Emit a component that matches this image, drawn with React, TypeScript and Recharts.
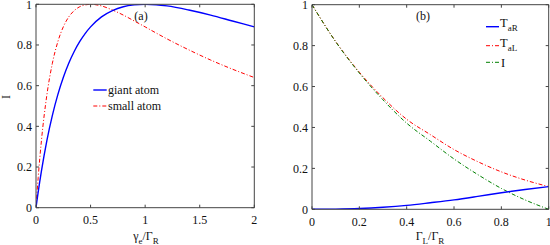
import React from "react";
import { LineChart, Line, XAxis, YAxis } from "recharts";

// Panel (a)
const gammaE = [0, 0.01, 0.02, 0.05, 0.1, 0.15, 0.2, 0.25, 0.3, 0.35, 0.4, 0.45, 0.5, 0.6, 0.7, 0.8, 0.9, 1.0, 1.1, 1.2, 1.4, 1.6, 1.8, 2.0];
const giantAtom = [0, 0.039, 0.077, 0.181, 0.331, 0.454, 0.556, 0.64, 0.71, 0.768, 0.816, 0.856, 0.889, 0.938, 0.969, 0.988, 0.997, 1, 0.998, 0.992, 0.972, 0.947, 0.918, 0.889];
const smallAtom = [0, 0.077, 0.148, 0.331, 0.556, 0.71, 0.816, 0.889, 0.938, 0.969, 0.988, 0.997, 1, 0.992, 0.972, 0.947, 0.918, 0.889, 0.859, 0.83, 0.776, 0.726, 0.681, 0.64];
const ticksA = [0, 0.5, 1, 1.5, 2];

// Panel (b)
const gammaRatio = [0, 0.1, 0.2, 0.3, 0.4, 0.5, 0.6, 0.7, 0.8, 0.9, 1.0];
const tAR = [0, 0.001, 0.004, 0.01, 0.019, 0.032, 0.046, 0.063, 0.081, 0.097, 0.111];
const tAL = [1, 0.82, 0.67, 0.545, 0.44, 0.365, 0.292, 0.233, 0.183, 0.143, 0.111];
const intensity = [1, 0.819, 0.666, 0.535, 0.421, 0.333, 0.246, 0.17, 0.102, 0.046, 0];
const ticksB = [0, 0.2, 0.4, 0.6, 0.8, 1];
const ticksY = [0, 0.2, 0.4, 0.6, 0.8, 1];

const dataA = gammaE.map((x, i) => ({ x, giant: giantAtom[i], small: smallAtom[i] }));
const dataB = gammaRatio.map((x, i) => ({ x, tar: tAR[i], tal: tAL[i], inten: intensity[i] }));

const FONT = "Liberation Serif";
const AX = "#444";
const tickStyle = { fontSize: 12, fontFamily: FONT, fill: "#111" };
const DASHDOT = "4 2 1 2";

export default function App() {
  return (
    <div style={{ position: "absolute", left: 0, top: 0, width: 550, height: 245, background: "#fff", fontFamily: FONT }}>
      <div style={{ position: "absolute", left: 0, top: 0 }}>
        <LineChart width={275} height={245} data={dataA} margin={{ top: 3.3, right: 19.7, left: 35, bottom: 36.3 }}>
          <XAxis dataKey="x" type="number" domain={[0, 2]} ticks={ticksA} interval={0} height={1}
            stroke={AX} tickSize={-3} tickMargin={11} tick={tickStyle} allowDataOverflow />
          <XAxis xAxisId="top" orientation="top" dataKey="x" type="number" domain={[0, 2]} ticks={ticksA} interval={0} height={1}
            stroke={AX} tickSize={-3} tickFormatter={() => ""} allowDataOverflow />
          <YAxis type="number" domain={[0, 1]} ticks={ticksY} interval={0} width={1}
            stroke={AX} tickSize={-3} tickMargin={7} tick={tickStyle} allowDataOverflow />
          <YAxis yAxisId="right" orientation="right" type="number" domain={[0, 1]} ticks={ticksY} interval={0} width={1}
            stroke={AX} tickSize={-3} tickFormatter={() => ""} allowDataOverflow />
          <Line dataKey="small" type="monotone" stroke="#ff0000" strokeWidth={1} strokeDasharray={DASHDOT} dot={false} isAnimationActive={false} />
          <Line dataKey="giant" type="monotone" stroke="#0000ff" strokeWidth={1.4} dot={false} isAnimationActive={false} />
        </LineChart>
      </div>
      <div style={{ position: "absolute", left: 275, top: 0 }}>
        <LineChart width={275} height={245} data={dataB} margin={{ top: 3.7, right: 0.3, left: 36, bottom: 34.7 }}>
          <XAxis dataKey="x" type="number" domain={[0, 1]} ticks={ticksB} interval={0} height={1}
            stroke={AX} tickSize={-3} tickMargin={11} tick={tickStyle} allowDataOverflow />
          <XAxis xAxisId="top" orientation="top" dataKey="x" type="number" domain={[0, 1]} ticks={ticksB} interval={0} height={1}
            stroke={AX} tickSize={-3} tickFormatter={() => ""} allowDataOverflow />
          <YAxis type="number" domain={[0, 1]} ticks={ticksY} interval={0} width={1}
            stroke={AX} tickSize={-3} tickMargin={7} tick={tickStyle} allowDataOverflow />
          <YAxis yAxisId="right" orientation="right" type="number" domain={[0, 1]} ticks={ticksY} interval={0} width={1}
            stroke={AX} tickSize={-3} tickFormatter={() => ""} allowDataOverflow />
          <Line dataKey="tal" type="monotone" stroke="#ff0000" strokeWidth={1} strokeDasharray={DASHDOT} dot={false} isAnimationActive={false} />
          <Line dataKey="inten" type="monotone" stroke="#008000" strokeWidth={1} strokeDasharray={DASHDOT} dot={false} isAnimationActive={false} />
          <Line dataKey="tar" type="monotone" stroke="#0000ff" strokeWidth={1.4} dot={false} isAnimationActive={false} />
        </LineChart>
      </div>
      <svg width={550} height={245} style={{ position: "absolute", left: 0, top: 0, pointerEvents: "none", fontFamily: FONT }}
        fill="#111">
        {/* panel labels */}
        <text x={141} y={19.5} fontSize={12} textAnchor="middle">(a)</text>
        <text x={423} y={19.5} fontSize={12} textAnchor="middle">(b)</text>
        {/* y label */}
        <text x={10} y={97} fontSize={12} textAnchor="middle" transform="rotate(-90 10 97)">I</text>
        {/* x labels */}
        <text x={146} y={240} fontSize={12} textAnchor="middle">
          <tspan>γ</tspan><tspan fontSize={9} dy={3.5}>e</tspan><tspan dy={-3.5}>/Γ</tspan><tspan fontSize={9} dy={3.5}>R</tspan>
        </text>
        <text x={430} y={240} fontSize={12} textAnchor="middle">
          <tspan>Γ</tspan><tspan fontSize={9} dy={3.5}>L</tspan><tspan dy={-3.5}>/Γ</tspan><tspan fontSize={9} dy={3.5}>R</tspan>
        </text>
        {/* legend (a) */}
        <line x1={93.3} x2={106.7} y1={90} y2={90} stroke="#0000ff" strokeWidth={1.4} />
        <text x={108} y={93.5} fontSize={12}>giant atom</text>
        <line x1={93.3} x2={106.7} y1={106} y2={106} stroke="#ff0000" strokeWidth={1} strokeDasharray={DASHDOT} />
        <text x={108} y={109.5} fontSize={12}>small atom</text>
        {/* legend (b) */}
        <line x1={486} x2={499} y1={26.7} y2={26.7} stroke="#0000ff" strokeWidth={1.4} />
        <text x={500} y={26.7} fontSize={12.5}>T<tspan fontSize={9} dy={4.5}>aR</tspan></text>
        <line x1={486} x2={499} y1={45.7} y2={45.7} stroke="#ff0000" strokeWidth={1} strokeDasharray={DASHDOT} />
        <text x={500} y={46.5} fontSize={12.5}>T<tspan fontSize={9} dy={4.5}>aL</tspan></text>
        <line x1={486} x2={499} y1={62.3} y2={62.3} stroke="#008000" strokeWidth={1} strokeDasharray={DASHDOT} />
        <text x={501} y={66.5} fontSize={12.5}>I</text>
      </svg>
    </div>
  );
}
